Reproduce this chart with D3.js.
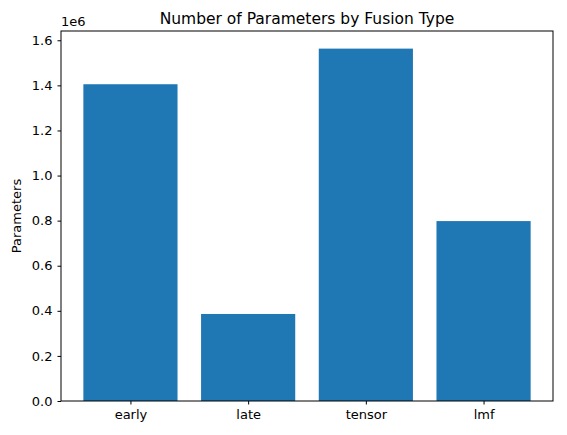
<!DOCTYPE html>
<html><head><meta charset="utf-8">
<script src="https://cdn.jsdelivr.net/npm/d3@7"></script>
<style>body{margin:0;background:#fff}text{font-family:"DejaVu Sans",sans-serif}</style>
</head><body>
<svg id="chart" width="567" height="435"></svg>
<script>
var categories = ["early", "late", "tensor", "lmf"];
var values = [1405000, 386000, 1563000, 798000];
var yTicks = [0, 0.2e6, 0.4e6, 0.6e6, 0.8e6, 1.0e6, 1.2e6, 1.4e6, 1.6e6];

var svg = d3.select("#chart");
var pLeft = 61, pRight = 553, pTop = 31, pBottom = 401;

var x = d3.scaleLinear().domain([-0.59, 3.59]).range([pLeft, pRight]);
var y = d3.scaleLinear().domain([0, d3.max(values) * 1.05]).range([pBottom, pTop]);

svg.selectAll("rect.bar")
  .data(values)
  .enter().append("rect")
    .attr("class", "bar")
    .attr("x", function(d, i) { return x(i - 0.4); })
    .attr("width", function(d, i) { return x(i + 0.4) - x(i - 0.4); })
    .attr("y", function(d) { return y(d); })
    .attr("height", function(d) { return pBottom - y(d); })
    .attr("fill", "#1f77b4");

svg.append("g")
  .attr("transform", "translate(0," + pBottom + ")")
  .call(d3.axisBottom(x).tickValues([0, 1, 2, 3]).tickFormat(function(d) { return categories[d]; }).tickSize(3.5).tickPadding(5))
  .call(function(g) { g.select(".domain").remove(); });

svg.append("g")
  .attr("transform", "translate(" + pLeft + ",0)")
  .call(d3.axisLeft(y).tickValues(yTicks).tickFormat(function(d) { return (d / 1e6).toFixed(1); }).tickSize(3.5).tickPadding(5))
  .call(function(g) { g.select(".domain").remove(); });

svg.selectAll(".tick text").attr("font-size", 13).attr("fill", "#000");
svg.selectAll(".tick line").attr("stroke", "#000");

svg.append("rect").attr("x", pLeft).attr("y", pTop).attr("width", pRight - pLeft).attr("height", pBottom - pTop)
  .attr("fill", "none").attr("stroke", "#000").attr("stroke-width", 1);

svg.append("text").attr("x", pLeft).attr("y", pTop - 5).attr("font-size", 13).text("1e6");
svg.append("text").attr("x", (pLeft + pRight) / 2).attr("y", pTop - 7).attr("text-anchor", "middle")
  .attr("font-size", 15.5).text("Number of Parameters by Fusion Type");
svg.append("text").attr("transform", "translate(21," + (pTop + pBottom) / 2 + ") rotate(-90)")
  .attr("text-anchor", "middle").attr("font-size", 13).text("Parameters");
</script>
</body></html>
